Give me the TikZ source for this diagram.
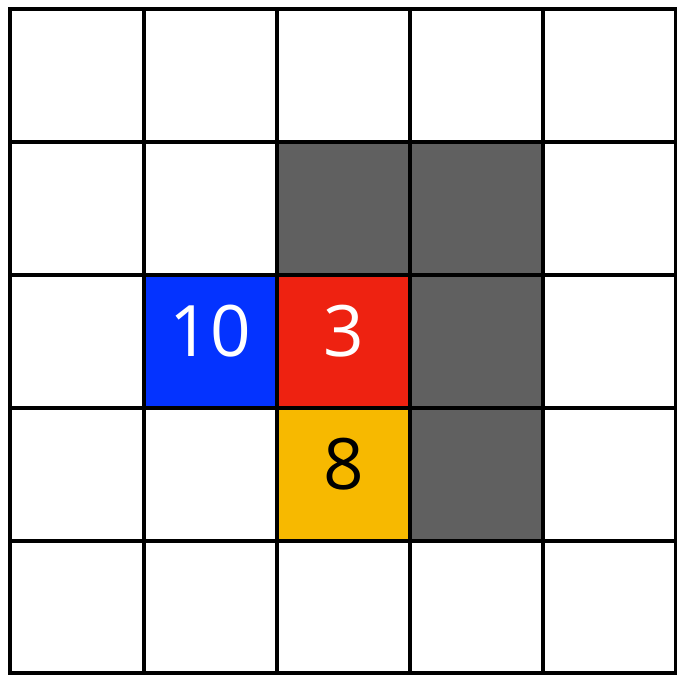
\documentclass[tikz,border=0pt]{standalone}
\usepackage{fontspec}
\setmainfont{Open Sans}
\definecolor{cgray}{HTML}{606060}
\definecolor{cblue}{HTML}{0433FF}
\definecolor{cred}{HTML}{EE2211}
\definecolor{cyel}{HTML}{F7B900}
\newcommand{\cellnum}[1]{\raisebox{22pt}{#1}}
\begin{document}
\begin{tikzpicture}[x=1pt,y=-1pt,
  cell/.style={minimum width=133pt,minimum height=133pt,inner sep=0pt,outer sep=0pt,font=\fontsize{71}{71}\selectfont},
  gridline/.style={line width=4.5pt,line cap=rect}]
\useasboundingbox (0,0) rectangle (677,675);
\def\xs{{10,144,277,410,543,676}}
\def\ys{{9,142,275,408,541,673}}
\node[cell,fill=cgray] (g1) at (343.5,208.5) {};
\node[cell,fill=cgray] (g2) at (476.5,208.5) {};
\node[cell,fill=cblue,text=white] (b) at (210.5,341.5) {\cellnum{10}};
\node[cell,fill=cred,text=white] (r) at (343.5,341.5) {\cellnum{3}};
\node[cell,fill=cgray] (g3) at (476.5,341.5) {};
\node[cell,fill=cyel,text=black] (y) at (343.5,474.5) {\cellnum{8}};
\node[cell,fill=cgray] (g4) at (476.5,474.5) {};
\foreach \i in {0,...,5}{
  \pgfmathsetmacro{\xv}{\xs[\i]}
  \pgfmathsetmacro{\yv}{\ys[\i]}
  \draw[gridline] (\xv,9) -- (\xv,673);
  \draw[gridline] (10,\yv) -- (676,\yv);
}
\end{tikzpicture}
\end{document}
